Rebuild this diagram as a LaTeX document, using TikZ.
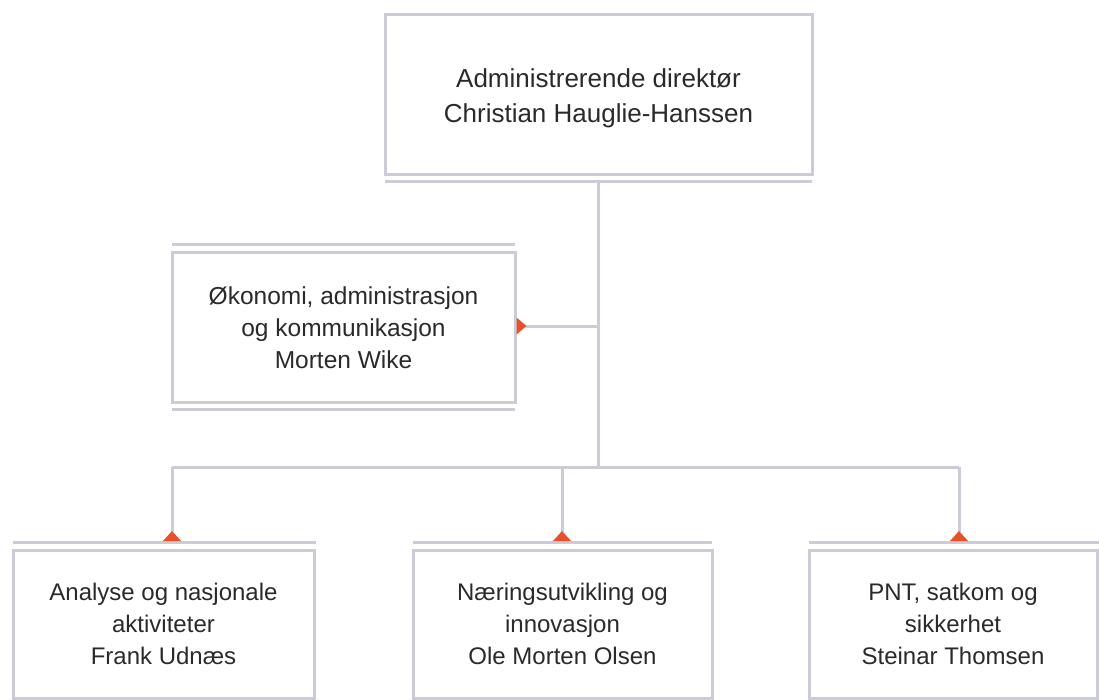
\documentclass[tikz,border=0pt]{standalone}
\usepackage{fontspec}
\setmainfont{Liberation Sans}
\definecolor{frame}{HTML}{CBCCD8}
\definecolor{accent}{HTML}{E8502A}
\definecolor{txt}{HTML}{2A2A2A}
\tikzset{
  orgbox/.style={draw=frame, line width=3pt, fill=white, rectangle, align=center,
    text=txt, font=\fontsize{24}{32}\selectfont, inner sep=0pt},
  rule/.style={draw=frame, line width=3pt},
  conn/.style={draw=frame, line width=3pt},
  tri/.style={fill=accent, draw=none}
}
\begin{document}
\begin{tikzpicture}[x=1pt,y=-1pt]
\useasboundingbox (0,0) rectangle (1099,700);
% boxes
\node[orgbox, minimum width=427pt, minimum height=160pt] (ceo) at (598.5,95) {};
\node[align=center, text=txt, font=\fontsize{26}{35}\selectfont, inner sep=0pt] (ceoT) at (598.5,98)
  {Administrerende direktør\\Christian Hauglie-Hanssen};
\node[orgbox, minimum width=343pt, minimum height=149pt, font=\fontsize{24.5}{32}\selectfont] (oak) at (343.5,327.5)
  {Økonomi, administrasjon\\og kommunikasjon\\Morten Wike};
\node[orgbox, minimum width=301pt, minimum height=148pt] (ana) at (163.5,624)
  {Analyse og nasjonale\\aktiviteter\\Frank Udnæs};
\node[orgbox, minimum width=299pt, minimum height=148pt] (nae) at (562.5,624)
  {Næringsutvikling og\\innovasjon\\Ole Morten Olsen};
\node[orgbox, minimum width=288pt, minimum height=148pt] (pnt) at (953,624)
  {PNT, satkom og\\sikkerhet\\Steinar Thomsen};
% decorative rules
\draw[rule] (385,182) -- (812,182);
\draw[rule] (172,245) -- (515,245);
\draw[rule] (172,409) -- (515,409);
\draw[rule] (13,542) -- (316,542);
\draw[rule] (413,542) -- (712,542);
\draw[rule] (809,542) -- (1099,542);
% connector coordinates
\coordinate (ceoS) at (598,182);
\coordinate (bus) at (598,467);
\coordinate (oakJ) at (598,326);
\coordinate (oakE) at (oak.east |- oakJ);
\coordinate (anaT) at (172,532);
\coordinate (naeT) at (562,532);
\coordinate (pntT) at (959,532);
\coordinate (anaB) at (172,467);
\coordinate (naeB) at (562,467);
\coordinate (pntB) at (959,467);
% connectors
\draw[conn] (ceoS) -- (bus);
\draw[conn] (oakJ) -- (oakE);
\draw[conn] (anaB) -- (pntB);
\draw[conn] (anaB) -- (anaT);
\draw[conn] (naeB) -- (naeT);
\draw[conn] (pntB) -- (pntT);
% triangles
\fill[tri] (oakE) ++(0,-8.5) -- ++(10,8.5) -- ++(-10,8.5) -- cycle;
\fill[tri] (163,541) -- (172,531) -- (181,541) -- cycle;
\fill[tri] (553,541) -- (562,531) -- (571,541) -- cycle;
\fill[tri] (950,541) -- (959,531) -- (968,541) -- cycle;
\end{tikzpicture}
\end{document}
